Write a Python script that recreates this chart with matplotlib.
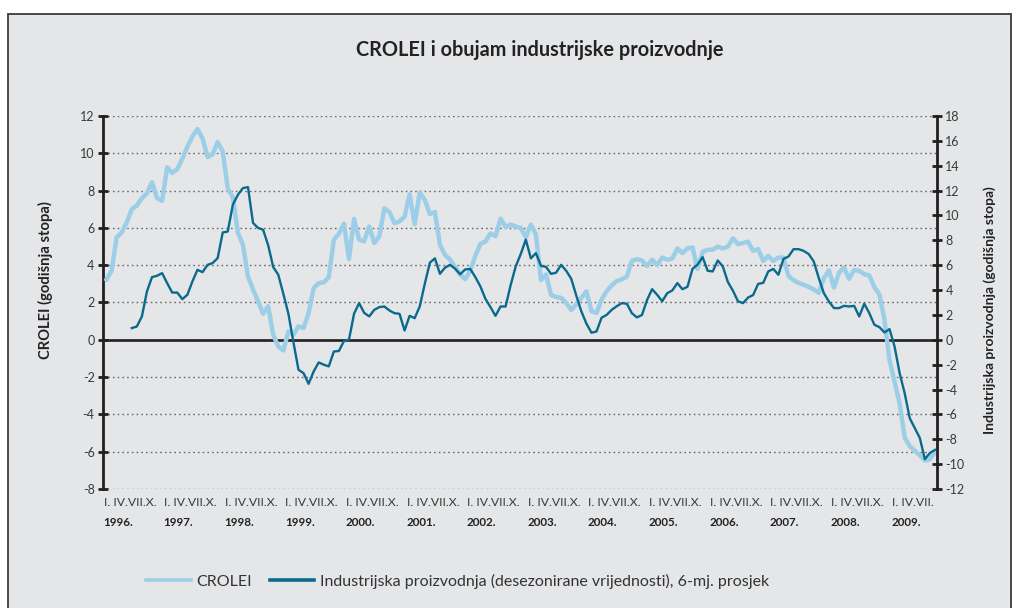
import matplotlib
matplotlib.use('Agg')
import matplotlib.pyplot as plt
from matplotlib.lines import Line2D
from matplotlib.patches import Rectangle
import matplotlib.transforms as mtransforms
import numpy as np

plt.rcParams['font.family'] = ['Lato', 'DejaVu Sans']
plt.rcParams['axes.unicode_minus'] = False

# ---------------- data ----------------
first_year = 1996
years = list(range(1996, 2010))
month_labels = ['I.', 'IV.', 'VII.', 'X.']

# CROLEI, annual rate, monthly from Jan 1996 (left axis)
crolei = [
    3.24, 3.7, 5.5, 5.75, 6.3, 7.0, 7.2, 7.6, 7.85, 8.45, 7.6, 7.45,          # 1996
    9.25, 8.95, 9.15, 9.7, 10.35, 10.9, 11.3, 10.8, 9.8, 9.95, 10.6, 10.1,   # 1997
    8.1, 7.65, 5.75, 5.1, 3.4, 2.7, 2.05, 1.4, 1.8, 0.27, -0.36, -0.57,      # 1998
    0.45, 0.27, 0.72, 0.63, 1.43, 2.77, 3.04, 3.08, 3.36, 5.37, 5.69, 6.23,  # 1999
    4.33, 6.48, 5.37, 5.28, 6.08, 5.19, 5.55, 7.05, 6.85, 6.25, 6.35, 6.6,   # 2000
    7.8, 6.2, 7.9, 7.5, 6.75, 6.85, 5.1, 4.55, 4.3, 3.9, 3.5, 3.25,          # 2001
    3.7, 4.5, 5.14, 5.27, 5.7, 5.55, 6.5, 6.05, 6.18, 6.07, 6.0, 5.5,        # 2002
    6.18, 5.65, 3.2, 3.5, 2.4, 2.3, 2.25, 1.98, 1.6, 1.9, 2.25, 2.6,         # 2003
    1.53, 1.44, 2.16, 2.6, 2.92, 3.15, 3.24, 3.39, 4.23, 4.32, 4.25, 3.95,   # 2004
    4.3, 4.0, 4.41, 4.29, 4.36, 4.9, 4.65, 4.9, 4.95, 3.8, 4.72, 4.83,       # 2005
    4.83, 5.0, 4.9, 5.0, 5.44, 5.13, 5.19, 5.26, 4.77, 4.86, 4.23, 4.5,      # 2006
    4.23, 4.41, 4.41, 3.42, 3.2, 3.05, 2.95, 2.84, 2.7, 2.52, 3.3, 3.72,     # 2007
    2.8, 3.6, 3.87, 3.27, 3.74, 3.69, 3.52, 3.45, 2.82, 2.43, 1.08, -1.08,   # 2008
    -2.25, -3.42, -5.25, -5.7, -5.94, -6.2, -6.47, -6.4, -6.03,              # 2009
]

# Industrial production (seasonally adjusted), 6-month average, annual rate (right axis)
ip_first_month = 5  # June 1996
ip = [
    0.94, 1.07, 1.88, 3.89, 5.04, 5.15, 5.36,                                # 1996
    4.56, 3.8, 3.8, 3.27, 3.62, 4.69, 5.63, 5.44, 6.03, 6.17, 6.57, 8.63,    # 1997
    8.71, 10.86, 11.66, 12.2, 12.28, 9.4, 9.0, 8.85, 7.6, 5.85, 5.23, 3.7,   # 1998
    2.1, -0.2, -2.41, -2.68, -3.54, -2.55, -1.82, -2.0, -2.14, -0.94, -0.9, -0.1,  # 1999
    0.02, 2.1, 2.95, 2.17, 1.88, 2.41, 2.63, 2.68, 2.36, 2.14, 2.09, 0.75,   # 2000
    1.93, 1.74, 2.68, 4.5, 6.2, 6.55, 5.31, 5.8, 6.03, 5.72, 5.27, 5.66,     # 2001
    5.7, 5.05, 4.3, 3.3, 2.63, 1.93, 2.68, 2.68, 4.4, 5.9, 6.9, 8.06,        # 2002
    6.55, 6.97, 5.95, 5.87, 5.3, 5.4, 6.03, 5.55, 4.9, 3.55, 2.28, 1.3,      # 2003
    0.57, 0.67, 1.78, 2.0, 2.41, 2.7, 2.95, 2.9, 2.14, 1.8, 2.0, 3.2,        # 2004
    4.07, 3.62, 3.1, 3.75, 3.97, 4.56, 4.07, 4.26, 5.7, 6.05, 6.65, 5.55,    # 2005
    5.5, 6.38, 5.9, 4.65, 3.95, 3.1, 2.95, 3.4, 3.6, 4.5, 4.58, 5.5,         # 2006
    5.7, 5.23, 6.5, 6.7, 7.29, 7.29, 7.15, 6.9, 6.3, 4.96, 3.75, 3.08,       # 2007
    2.55, 2.55, 2.73, 2.68, 2.73, 1.88, 2.9, 2.14, 1.21, 1.02, 0.59, 0.86,   # 2008
    -0.54, -2.68, -4.29, -6.3, -7.1, -7.9, -9.6, -9.1, -8.85,                # 2009
]

title = 'CROLEI i obujam industrijske proizvodnje'
left_label = 'CROLEI (godišnja stopa)'
right_label = 'Industrijska proizvodnja (godišnja stopa)'
legend_labels = ['CROLEI',
                 'Industrijska proizvodnja (desezonirane vrijednosti), 6-mj. prosjek']

# ---------------- style ----------------
W, H = 1019, 608
bg = '#e5e6e8'
c_light = '#9ccfe7'
c_dark = '#0a6a8e'
c_axis = '#231f20'
c_text = '#3a3a3a'

fig = plt.figure(figsize=(W / 100, H / 100), dpi=100, facecolor='white')
fig.patches.append(Rectangle((8 / W, -0.02), (1011 - 8) / W, 1.02 - 14 / H,
                             transform=fig.transFigure, facecolor=bg,
                             edgecolor='#3a3a3a', lw=1.3, zorder=-10))

ax = fig.add_axes([103 / W, 1 - 489 / H, (937 - 103) / W, (489 - 116) / H])
ax.set_facecolor('none')
ax2 = ax.twinx()

x_c = np.arange(len(crolei))
x_i = np.arange(ip_first_month, ip_first_month + len(ip))

ax.set_xlim(-0.7, 164.4)
ax.set_ylim(-8, 12)
ax2.set_ylim(-12, 18)

ax.set_yticks(np.arange(-8, 13, 2))
ax2.set_yticks(np.arange(-12, 19, 2))
ax.set_xticks([])

ax.yaxis.grid(True, linestyle=(0, (1.2, 2.2)), color='#6b6b6b', lw=1.0)
ax.set_axisbelow(True)
ax.axhline(0, color=c_axis, lw=1.9, zorder=1.5)

ax.plot(x_c, crolei, color=c_light, lw=3.2, solid_joinstyle='round', zorder=3)
ax2.plot(x_i, ip, color=c_dark, lw=1.7, solid_joinstyle='round', zorder=4)

for a in (ax, ax2):
    for s in ('top', 'bottom'):
        a.spines[s].set_visible(False)
ax.spines['right'].set_visible(False)
ax2.spines['left'].set_visible(False)
ax.spines['left'].set_color(c_axis)
ax.spines['left'].set_linewidth(2.0)
ax2.spines['right'].set_color(c_axis)
ax2.spines['right'].set_linewidth(2.0)

ax.tick_params(axis='y', direction='inout', length=7, width=2, color=c_axis,
               labelsize=9, labelcolor=c_text, pad=2.5)
ax2.tick_params(axis='y', direction='inout', length=7, width=2, color=c_axis,
                labelsize=9, labelcolor=c_text, pad=2.5)

# x-axis labels: quarter labels per year and year labels below
trans = mtransforms.blended_transform_factory(ax.transData, ax.transAxes)
last_m = len(crolei) - 1
for yr in years:
    m0 = (yr - first_year) * 12
    quarters = [lab for q, lab in enumerate(month_labels) if m0 + 3 * q <= last_m]
    qtxt = quarters[0] + (' ' + ''.join(quarters[1:]) if len(quarters) > 1 else '')
    ax.text(m0 - 0.6, -14 / 373, qtxt, transform=trans, ha='left', va='center',
            fontsize=8.8, color=c_text)
    ax.text(m0 - 0.7, -33 / 373, f'{yr}.', transform=trans, ha='left', va='center',
            fontsize=8.4, color='#222222', fontweight='bold')

fig.text(540 / W, 1 - 50 / H, title, ha='center', va='center', fontsize=14.3,
         fontweight='bold', color='#222222')
fig.text(45 / W, 1 - 280 / H, left_label, rotation=90, ha='center', va='center',
         fontsize=10.6, fontweight='bold', color='#222222')
fig.text(990 / W, 1 - 310 / H, right_label, rotation=90, ha='center', va='center',
         fontsize=10, fontweight='bold', color='#222222')

handles = [Line2D([], [], color=c_light, lw=2.6),
           Line2D([], [], color=c_dark, lw=2.6)]
fig.legend(handles, legend_labels, loc='center left',
           bbox_to_anchor=(146 / W, 1 - 581 / H), ncol=2, frameon=False,
           fontsize=11.5, handlelength=2.8, handletextpad=0.35, columnspacing=1.1,
           borderpad=0, borderaxespad=0, labelcolor='#333333')

fig.savefig('out.png', dpi=100, facecolor=fig.get_facecolor())
